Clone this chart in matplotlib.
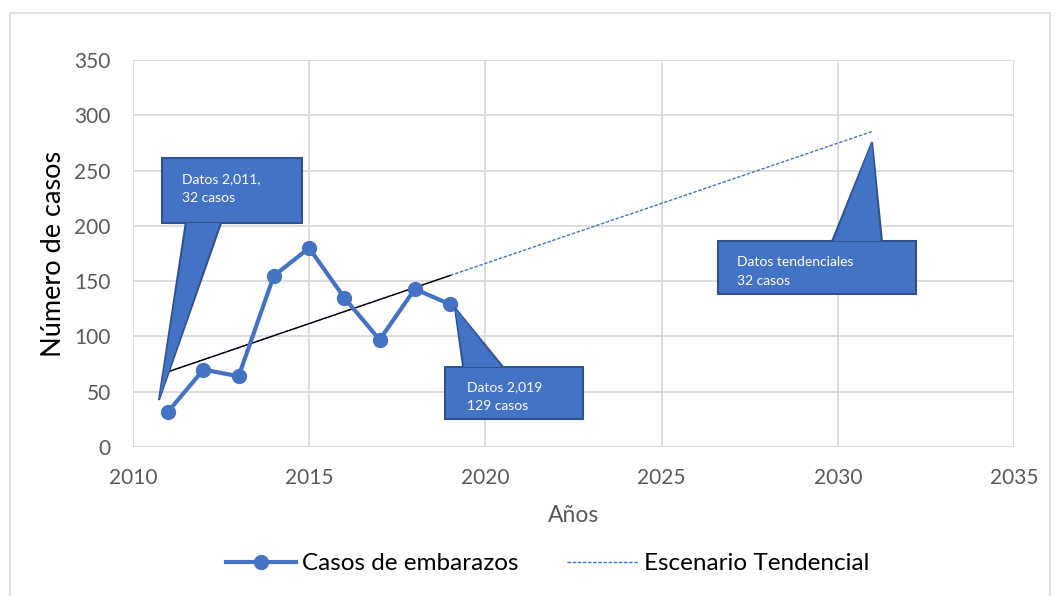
import matplotlib.pyplot as plt
from matplotlib.patches import Polygon, Rectangle

plt.rcParams['font.family'] = ['Lato', 'DejaVu Sans']

# datos
years = [2011, 2012, 2013, 2014, 2015, 2016, 2017, 2018, 2019]
casos = [32, 70, 64, 155, 180, 135, 97, 143, 129]

# escenario tendencial (recta de tendencia, extremos)
esc_years = [2011, 2031]
esc_values = [68.1, 285.8]
trend_years = [2011, 2019]
trend_values = [68.1, 155.2]

blue = '#4472C4'
edge = '#2F528F'
grid = '#D9D9D9'
gray = '#595959'

fig = plt.figure(figsize=(10.63, 5.96), dpi=100)
ax = fig.add_axes([0.125, 0.25, 0.829, 0.649])

# borde del area del grafico
fig.patches.append(Rectangle((0.0094, -0.05), 0.978, 1.028, transform=fig.transFigure,
                             fill=False, edgecolor=grid, lw=1.2))

ax.plot(esc_years, esc_values, color=blue, lw=1, ls=(0, (2.5, 1.2)),
        label='Escenario Tendencial', zorder=2)
ax.plot(trend_years, trend_values, color='black', lw=1, zorder=3)
ax.plot(years, casos, color=blue, lw=3, marker='o', markersize=10,
        label='Casos de embarazos', zorder=4)

ax.set_xlim(2010, 2035)
ax.set_ylim(0, 350)
ax.set_xticks(range(2010, 2036, 5))
ax.set_yticks(range(0, 351, 50))
ax.grid(True, color=grid, lw=1.3)
ax.set_axisbelow(True)
for s in ax.spines.values():
    s.set_visible(False)
ax.tick_params(length=0, labelsize=15, labelcolor=gray)
ax.tick_params(axis='y', pad=16)
ax.tick_params(axis='x', pad=15)
ax.set_xlabel('Años', fontsize=16.5, color=gray, labelpad=12)
ax.set_ylabel('Número de casos', fontsize=19.5, color='black', labelpad=6)


# llamadas (rectangulo + punta)
def callout(x0, x1, y0, y1, b0, b1, tip, text, tx, ty, top=True):
    yb = y0 if top else y1
    ax.add_patch(Rectangle((x0, y0), x1 - x0, y1 - y0, facecolor=blue,
                           edgecolor=edge, lw=1.5, zorder=5, clip_on=False))
    ax.add_patch(Polygon([(b0, yb), tip, (b1, yb)], closed=False, facecolor=blue,
                         edgecolor=edge, lw=1.5, zorder=5, clip_on=False))
    ax.add_patch(Polygon([(b0 + 0.05, yb), tip, (b1 - 0.05, yb)], closed=True,
                         facecolor=blue, edgecolor='none', zorder=6, clip_on=False))
    ax.text(tx, ty, text, color='white', fontsize=10, va='top', ha='left',
            linespacing=1.75, zorder=7)


callout(2010.82, 2014.80, 202.6, 261.4, 2011.50, 2012.50, (2010.74, 42.5),
        'Datos 2,011,\n32 casos', 2011.39, 248, top=True)
callout(2018.85, 2022.77, 25.3, 72.4, 2019.37, 2020.50, (2019.14, 125.7),
        'Datos 2,019\n129 casos', 2019.48, 60, top=False)
callout(2026.60, 2032.22, 138.4, 186.3, 2029.84, 2031.25, (2030.97, 275.8),
        'Datos tendenciales\n32 casos', 2027.15, 173, top=False)

h, l = ax.get_legend_handles_labels()
fig.legend([h[1], h[0]], [l[1], l[0]], loc='center', bbox_to_anchor=(0.515, 0.054),
           ncol=2, frameon=False, fontsize=17.5, handlelength=2.9, columnspacing=2.0,
           handletextpad=0.25)

fig.savefig('out.png', dpi=100)
